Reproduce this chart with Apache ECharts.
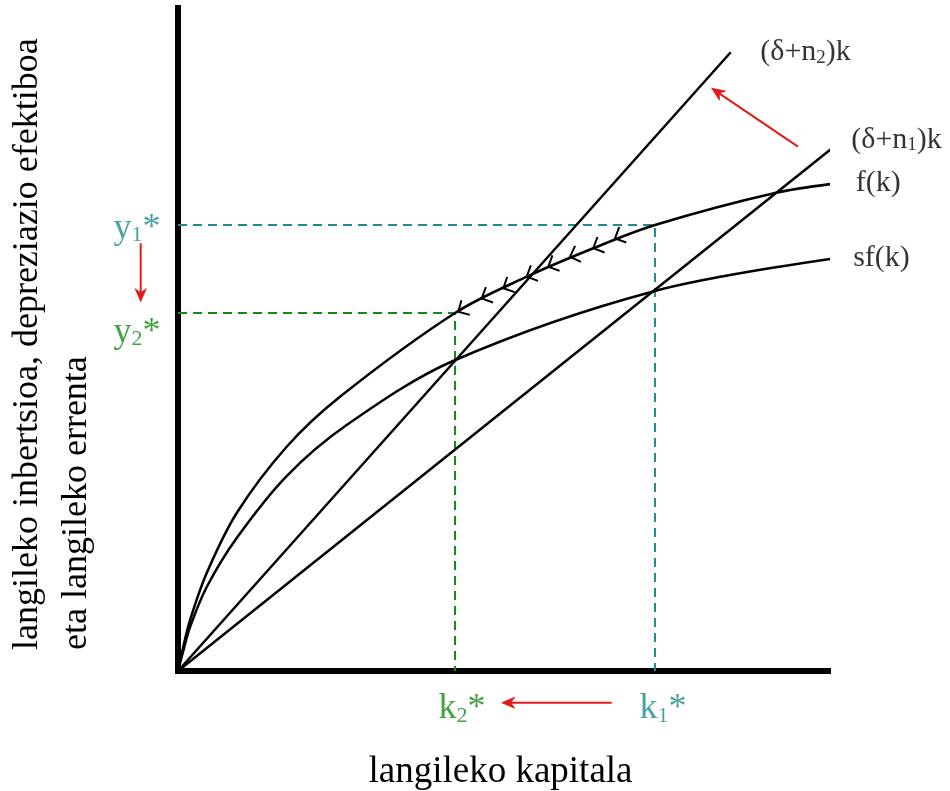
<!DOCTYPE html>
<html><head><meta charset="utf-8">
<script src="https://cdn.jsdelivr.net/npm/echarts@6/dist/echarts.min.js"></script>
<style>html,body{margin:0;padding:0;background:#fff}#c{width:950px;height:791px}</style>
</head><body><div id="c"></div>
<script>
// ---- data (k on x, output/investment on y) ----
const fK  = [[0,0],[0.077,0.347],[0.185,0.769],[0.442,1.478],[0.903,2.383],[1.672,3.383],[2.492,4.137],[4.262,5.40],[5.365,5.947],[6.389,6.376],[7.338,6.727],[9.185,7.21],[10.21,7.365]];
const sfK = [[0,0],[0.077,0.287],[0.185,0.664],[0.442,1.267],[0.903,2.006],[1.672,2.941],[2.595,3.71],[4.231,4.676],[7.338,5.732],[10.21,6.24]];
const depN1 = [[0,0],[10.21,8.0]];
const depN2 = [[0,0],[8.503,9.332]];
const k1 = 7.338, y1 = 6.727;
const k2 = 4.262, y2 = 5.40;
const chevrons = [[4.312,5.419],[4.672,5.621],[5.005,5.772],[5.365,5.947],[5.697,6.098],[6.031,6.249],[6.389,6.376],[6.723,6.526]];
const arrows = [[6.672,-0.478,4.980,-0.478],[-0.574,6.451,-0.574,5.570],[9.538,7.908,8.211,8.789]];
const curveTexts = ['{m|(δ+n}{s|2}{m|)k}','{m|(δ+n}{s|1}{m|)k}','{m|f(k)}','{m|sf(k)}'];
const curveAnchors = [[8.95,9.33],[10.35,8.01],[10.42,7.36],[10.38,6.22]];
const starTexts = ['{t|y}{s|1}{t|*}','{g|y}{gs|2}{g|*}','{g|k}{gs|2}{g|*}','{t|k}{s|1}{t|*}'];
const starAnchors = [[-0.63,6.68],[-0.63,5.11],[4.37,-0.57],[7.46,-0.57]];
const xTitle = 'langileko kapitala';
const yTitle = 'langileko inbertsioa, depreziazio efektiboa\neta langileko errenta';

const FONT = '"Liberation Serif","Times New Roman",serif';
const TEAL = '#1f8b8b', GREEN = '#158a15', RED = '#e01b1b';

const chart = echarts.init(document.getElementById('c'));
const curveStyle = {color:'#000', width:2.5};

function chevronItem(params, api){
  const i = params.dataIndex;
  const p = api.coord(chevrons[i]);
  const j = i < chevrons.length-1 ? i+1 : i-1;
  const q = api.coord(chevrons[j]);
  let dx = q[0]-p[0], dy = q[1]-p[1];
  if (j < i) { dx = -dx; dy = -dy; }
  const len = Math.hypot(dx,dy); dx/=len; dy/=len;
  const L = 12, c = Math.cos(Math.PI/4), s = Math.sin(Math.PI/4);
  const a1 = [p[0] + L*(dx*c - dy*s), p[1] + L*(dx*s + dy*c)];
  const a2 = [p[0] + L*(dx*c + dy*s), p[1] + L*(-dx*s + dy*c)];
  return {type:'polyline', shape:{points:[a1,p,a2]}, style:{stroke:'#000', lineWidth:2, fill:null}};
}
function arrowItem(params, api){
  const a = api.coord([api.value(0), api.value(1)]);
  const b = api.coord([api.value(2), api.value(3)]);
  let dx = b[0]-a[0], dy = b[1]-a[1];
  const len = Math.hypot(dx,dy); dx/=len; dy/=len;
  const H = 13, W = 5.5, N = 9;
  const back = [b[0]-dx*H, b[1]-dy*H];
  const notch = [b[0]-dx*N, b[1]-dy*N];
  const l = [back[0]-dy*W, back[1]+dx*W];
  const r = [back[0]+dy*W, back[1]-dx*W];
  return {type:'group', children:[
    {type:'line', shape:{x1:a[0], y1:a[1], x2:notch[0], y2:notch[1]}, style:{stroke:RED, lineWidth:2}},
    {type:'polygon', shape:{points:[b,l,notch,r]}, style:{fill:RED, stroke:RED, lineWidth:0.8}}
  ]};
}

const rich = {
  t:{fontSize:36, fontFamily:FONT, color:TEAL, lineHeight:36, verticalAlign:'top'},
  s:{fontSize:22, fontFamily:FONT, color:TEAL, lineHeight:22, verticalAlign:'bottom', padding:[18,0,0,0]},
  g:{fontSize:36, fontFamily:FONT, color:GREEN, lineHeight:36, verticalAlign:'top'},
  gs:{fontSize:22, fontFamily:FONT, color:GREEN, lineHeight:22, verticalAlign:'bottom', padding:[18,0,0,0]}
};
const richC = {
  m:{fontSize:30, fontFamily:FONT, color:'#000', lineHeight:30, verticalAlign:'top'},
  s:{fontSize:19, fontFamily:FONT, color:'#000', lineHeight:19, verticalAlign:'bottom', padding:[15,0,0,0]}
};

chart.setOption({
  animation:false,
  backgroundColor:'#fff',
  grid:{left:178, top:8, width:650, height:663, outerBoundsMode:'none', containLabel:false},
  xAxis:{type:'value', min:0, max:10, name:xTitle, nameLocation:'middle', nameGap:83,
    nameTextStyle:{fontFamily:FONT, fontSize:37, color:'#000', lineHeight:37, padding:[0,5,0,0]},
    axisLine:{lineStyle:{color:'#000', width:6, cap:'square'}}, axisTick:{show:false}, axisLabel:{show:false}, splitLine:{show:false}},
  yAxis:{type:'value', min:0, max:10,
    axisLine:{lineStyle:{color:'#000', width:6, cap:'square'}}, axisTick:{show:false}, axisLabel:{show:false}, splitLine:{show:false}},
  graphic:[{type:'text', x:3, y:650, rotation:Math.PI/2,
    style:{text:yTitle, font:'36px '+FONT, fill:'#000', align:'left', verticalAlign:'top', lineHeight:49}}],
  series:[
    {type:'line', data:[[0,y1],[k1,y1],[k1,0]], symbol:'none', lineStyle:{color:TEAL, width:2, type:[9,6]}, z:1},
    {type:'line', data:[[0,y2],[k2,y2],[k2,0]], symbol:'none', lineStyle:{color:GREEN, width:2, type:[9,6]}, z:1},
    {type:'line', data:fK, smooth:0.33, symbol:'none', clip:false, lineStyle:curveStyle, z:3},
    {type:'line', data:sfK, smooth:0.33, symbol:'none', clip:false, lineStyle:curveStyle, z:3},
    {type:'line', data:depN1, symbol:'none', clip:false, lineStyle:curveStyle, z:3},
    {type:'line', data:depN2, symbol:'none', clip:false, lineStyle:curveStyle, z:3},
    {type:'custom', data:chevrons, renderItem:chevronItem, clip:false, z:4},
    {type:'custom', data:arrows, renderItem:arrowItem, clip:false, z:4},
    {type:'scatter', clip:false, symbolSize:1, itemStyle:{color:'rgba(0,0,0,0)'}, z:5,
      data:curveAnchors.map((p,i)=>({value:p, label:{show:true, position:'right', distance:0,
        formatter:curveTexts[i], rich:richC}}))},
    {type:'scatter', clip:false, symbolSize:1, itemStyle:{color:'rgba(0,0,0,0)'}, z:5,
      data:starAnchors.map((p,i)=>({value:p, label:{show:true, position:'inside', formatter:starTexts[i], rich:rich}}))}
  ]
});
</script></body></html>
